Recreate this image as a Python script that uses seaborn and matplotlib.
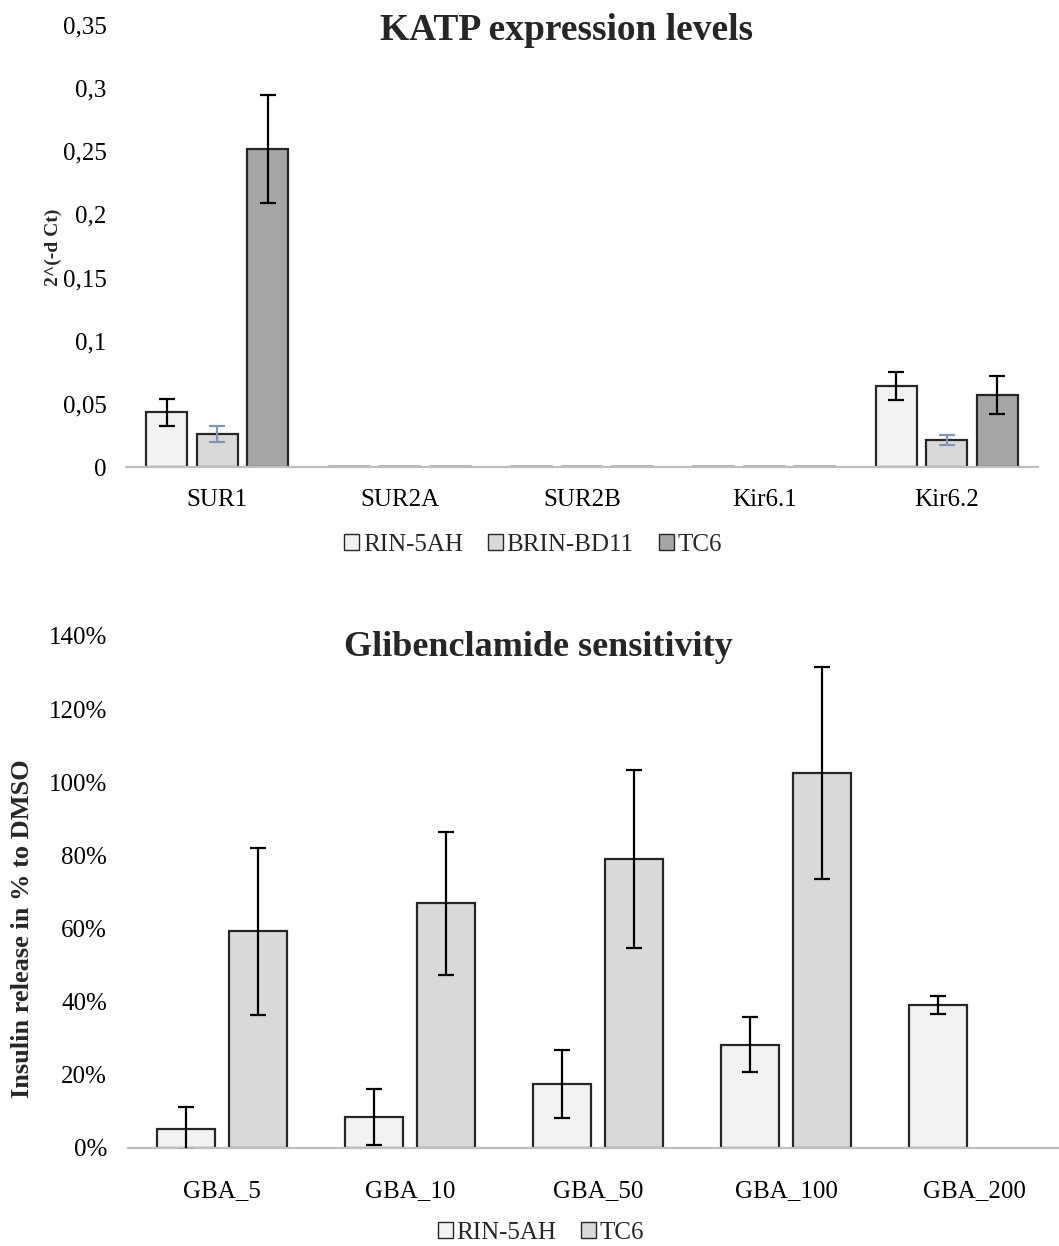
import matplotlib
matplotlib.use("Agg")
import matplotlib.pyplot as plt
import matplotlib.ticker as mticker
from matplotlib.patches import Patch
import seaborn as sns
import pandas as pd

sns.set_theme(style="white")
plt.rcParams["font.family"] = ["Liberation Serif", "DejaVu Serif"]

# --- KATP expression (2^-dCt) ---
genes = ["SUR1", "SUR2A", "SUR2B", "Kir6.1", "Kir6.2"]
cell_lines_expr = ["RIN-5AH", "BRIN-BD11", "TC6"]
rin_expr = [0.0435, 0.0004, 0.0004, 0.0004, 0.0642]
rin_expr_err = [0.0107, 0.0, 0.0, 0.0, 0.0113]
brin_expr = [0.0262, 0.0004, 0.0004, 0.0004, 0.0213]
brin_expr_err = [0.0064, 0.0, 0.0, 0.0, 0.0038]
tc6_expr = [0.2518, 0.0004, 0.0004, 0.0004, 0.0572]
tc6_expr_err = [0.0430, 0.0, 0.0, 0.0, 0.0150]
expr_ticks = [0, 0.05, 0.1, 0.15, 0.2, 0.25, 0.3, 0.35]
expr_ticklabels = ["0", "0,05", "0,1", "0,15", "0,2", "0,25", "0,3", "0,35"]

# --- Glibenclamide sensitivity (fraction of DMSO) ---
doses = ["GBA_5", "GBA_10", "GBA_50", "GBA_100", "GBA_200"]
cell_lines_gba = ["RIN-5AH", "TC6"]
rin_gba = [0.053, 0.084, 0.175, 0.283, 0.391]
rin_gba_err = [0.059, 0.076, 0.092, 0.076, 0.025]
tc6_gba = [0.592, 0.669, 0.790, 1.025, 0.0]
tc6_gba_err = [0.227, 0.195, 0.244, 0.290, 0.0]

W, H = 1059, 1246
fig = plt.figure(figsize=(W / 100, H / 100), dpi=100)

def px_axes(left, right, top, bottom):
    return fig.add_axes([left / W, 1 - bottom / H, (right - left) / W, (bottom - top) / H])

EDGE = "#262626"
BASE = "#bfbfbf"

def style_axes(ax):
    for s in ["left", "right", "top"]:
        ax.spines[s].set_visible(False)
    ax.spines["bottom"].set_color(BASE)
    ax.spines["bottom"].set_linewidth(1.6)
    ax.tick_params(axis="both", length=0, labelsize=18, colors="black")
    ax.tick_params(axis="y", pad=14)
    ax.tick_params(axis="x", pad=16)
    ax.set_xlabel("")
    ax.set_ylabel("")
    ax.grid(False)

# ---------- top panel ----------
ax1 = px_axes(126, 1038, 25, 467)
df1 = pd.DataFrame({
    "gene": genes * 3,
    "line": sum([[c] * len(genes) for c in cell_lines_expr], []),
    "value": rin_expr + brin_expr + tc6_expr,
    "err": rin_expr_err + brin_expr_err + tc6_expr_err,
})
pal1 = {"RIN-5AH": "#f2f2f2", "BRIN-BD11": "#d9d9d9", "TC6": "#a6a6a6"}
sns.barplot(data=df1, x="gene", y="value", hue="line", order=genes,
            hue_order=cell_lines_expr, palette=pal1, errorbar=None,
            width=0.83, gap=0.19, edgecolor=EDGE, linewidth=1.6,
            legend=False, ax=ax1)
err_colors1 = {"RIN-5AH": "black", "BRIN-BD11": "#8094b4", "TC6": "black"}
for container, line in zip(ax1.containers, cell_lines_expr):
    sub = df1[df1["line"] == line]
    for bar, v, e in zip(container.patches, sub["value"], sub["err"]):
        if v < 0.001:
            # near-zero expression reads as a faint grey stub on the baseline
            bar.set_edgecolor("#a8a8a8")
            bar.set_linewidth(1.2)
        if e > 0:
            ax1.errorbar(bar.get_x() + bar.get_width() / 2, v, yerr=e,
                         fmt="none", ecolor=err_colors1[line],
                         elinewidth=1.6, capsize=6, capthick=1.6, zorder=5)
ax1.set_ylim(0, 0.35)
ax1.set_xlim(-0.5, 4.5)
ax1.yaxis.set_major_locator(mticker.FixedLocator(expr_ticks))
ax1.set_yticklabels(expr_ticklabels)
style_axes(ax1)
fig.text(53 / W, 1 - 247 / H, "2^(-d Ct)", rotation=90, ha="center",
         va="center", fontsize=14, fontweight="bold")
fig.text(567 / W, 1 - 31 / H, "KATP expression levels", ha="center",
         va="center", fontsize=27, fontweight="bold")
handles1 = [Patch(facecolor=pal1[c], edgecolor=EDGE, linewidth=1.0, label=c)
            for c in cell_lines_expr]
fig.legend(handles=handles1, loc="center", bbox_to_anchor=(533 / W, 1 - 545 / H),
           ncol=3, frameon=False, fontsize=18, handlelength=0.6,
           handleheight=0.6, handletextpad=0.15, columnspacing=1.0,
           borderpad=0, borderaxespad=0)

# ---------- bottom panel ----------
ax2 = px_axes(128, 1059, 636, 1148)
df2 = pd.DataFrame({
    "dose": doses * 2,
    "line": sum([[c] * len(doses) for c in cell_lines_gba], []),
    "value": rin_gba + tc6_gba,
    "err": rin_gba_err + tc6_gba_err,
})
pal2 = {"RIN-5AH": "#f2f2f2", "TC6": "#d9d9d9"}
sns.barplot(data=df2, x="dose", y="value", hue="line", order=doses,
            hue_order=cell_lines_gba, palette=pal2, errorbar=None,
            width=0.766, gap=0.195, edgecolor=EDGE, linewidth=1.6,
            legend=False, ax=ax2)
for container, line in zip(ax2.containers, cell_lines_gba):
    sub = df2[df2["line"] == line]
    for bar, v, e in zip(container.patches, sub["value"], sub["err"]):
        if v == 0:
            bar.set_visible(False)
            continue
        ax2.errorbar(bar.get_x() + bar.get_width() / 2, v, yerr=e,
                     fmt="none", ecolor="black", elinewidth=1.6,
                     capsize=6, capthick=1.6, zorder=5)
ax2.set_ylim(0, 1.4)
ax2.set_xlim(-0.5, 4.452)
ax2.yaxis.set_major_locator(mticker.MultipleLocator(0.2))
ax2.yaxis.set_major_formatter(mticker.PercentFormatter(1.0, decimals=0))
style_axes(ax2)
ax2.tick_params(axis="y", pad=15)
ax2.tick_params(axis="x", pad=23)
fig.text(23 / W, 1 - 929 / H, "Insulin release in % to DMSO", rotation=90,
         ha="center", va="center", fontsize=19, fontweight="bold")
fig.text(538 / W, 1 - 648 / H, "Glibenclamide sensitivity", ha="center",
         va="center", fontsize=26, fontweight="bold")
handles2 = [Patch(facecolor=pal2[c], edgecolor=EDGE, linewidth=1.0, label=c)
            for c in cell_lines_gba]
fig.legend(handles=handles2, loc="center", bbox_to_anchor=(541 / W, 1 - 1233 / H),
           ncol=2, frameon=False, fontsize=18, handlelength=0.6,
           handleheight=0.6, handletextpad=0.15, columnspacing=1.0,
           borderpad=0, borderaxespad=0)

fig.savefig("out.png", dpi=100, facecolor="white")
